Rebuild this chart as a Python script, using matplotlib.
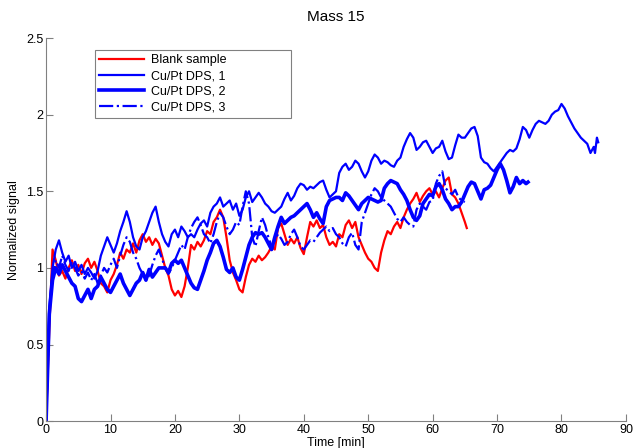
import numpy as np
import matplotlib
matplotlib.use('Agg')
import matplotlib.pyplot as plt

plt.rcParams['font.family'] = ['Liberation Sans', 'DejaVu Sans']

# Blank sample (red)
t_blank = [0, 0.5, 1, 1.5, 2, 2.5, 3, 3.5, 4, 4.5, 5, 5.5, 6, 6.5, 7, 7.5, 8, 8.5, 9, 9.5,
           10, 10.5, 11, 11.5, 12, 12.5, 13, 13.5, 14, 14.5, 15, 15.5, 16, 16.5, 17, 17.5, 18, 18.5, 19, 19.5,
           20, 20.5, 21, 21.5, 22, 22.5, 23, 23.5, 24, 24.5, 25, 25.5, 26, 26.5, 27, 27.5, 28, 28.5, 29, 29.5,
           30, 30.5, 31, 31.5, 32, 32.5, 33, 33.5, 34, 34.5, 35, 35.5, 36, 36.5, 37, 37.5, 38, 38.5, 39, 39.5,
           40, 40.5, 41, 41.5, 42, 42.5, 43, 43.5, 44, 44.5, 45, 45.5, 46, 46.5, 47, 47.5, 48, 48.5, 49, 49.5,
           50, 50.5, 51, 51.5, 52, 52.5, 53, 53.5, 54, 54.5, 55, 55.5, 56, 56.5, 57, 57.5, 58, 58.5, 59, 59.5,
           60, 60.5, 61, 61.5, 62, 62.5, 63, 63.5, 64, 64.5, 65, 65.3]
y_blank = [0, 0.6, 1.12, 1.05, 0.95, 0.98, 0.93, 1.0, 1.05, 0.98, 1.02, 0.96, 1.03, 1.06, 1.0, 1.04, 0.98, 0.9, 0.88, 0.84,
           0.92, 0.96, 1.02, 1.1, 1.06, 1.12, 1.1, 1.16, 1.1, 1.18, 1.22, 1.17, 1.2, 1.15, 1.19, 1.16, 1.08, 1.0, 0.95, 0.86,
           0.82, 0.85, 0.81, 0.88, 1.0, 1.15, 1.12, 1.17, 1.14, 1.18, 1.24, 1.22, 1.3, 1.33, 1.38, 1.33, 1.2, 1.05, 0.97, 0.92,
           0.86, 0.84, 0.94, 1.02, 1.06, 1.04, 1.08, 1.05, 1.07, 1.1, 1.14, 1.12, 1.26, 1.29, 1.22, 1.15, 1.19, 1.16, 1.2, 1.13,
           1.09, 1.2, 1.3, 1.27, 1.31, 1.26, 1.28, 1.2, 1.15, 1.17, 1.14, 1.22, 1.2, 1.28, 1.31, 1.26, 1.3, 1.2, 1.15, 1.1,
           1.06, 1.04, 1.0, 0.98, 1.1, 1.18, 1.24, 1.22, 1.27, 1.3, 1.26, 1.33, 1.38, 1.42, 1.45, 1.49, 1.43, 1.47, 1.5, 1.52,
           1.48, 1.5, 1.46, 1.52, 1.57, 1.59, 1.48, 1.46, 1.42, 1.36, 1.3, 1.26]

# Cu/Pt DPS, 1
t_dps1 = [0, 0.5, 1, 1.5, 2, 2.5, 3, 3.5, 4, 4.5, 5, 5.5, 6, 6.5, 7, 7.5, 8, 8.5, 9, 9.5,
          10, 10.5, 11, 11.5, 12, 12.5, 13, 13.5, 14, 14.5, 15, 15.5, 16, 16.5, 17, 17.5, 18, 18.5, 19, 19.5,
          20, 20.5, 21, 21.5, 22, 22.5, 23, 23.5, 24, 24.5, 25, 25.5, 26, 26.5, 27, 27.5, 28, 28.5, 29, 29.5,
          30, 30.5, 31, 31.5, 32, 32.5, 33, 33.5, 34, 34.5, 35, 35.5, 36, 36.5, 37, 37.5, 38, 38.5, 39, 39.5,
          40, 40.5, 41, 41.5, 42, 42.5, 43, 43.5, 44, 44.5, 45, 45.5, 46, 46.5, 47, 47.5, 48, 48.5, 49, 49.5,
          50, 50.5, 51, 51.5, 52, 52.5, 53, 53.5, 54, 54.5, 55, 55.5, 56, 56.5, 57, 57.5, 58, 58.5, 59, 59.5,
          60, 60.5, 61, 61.5, 62, 62.5, 63, 63.5, 64, 64.5, 65, 65.5, 66, 66.5, 67, 67.5, 68, 68.5, 69, 69.5,
          70, 70.5, 71, 71.5, 72, 72.5, 73, 73.5, 74, 74.5, 75, 75.5, 76, 76.5, 77, 77.5, 78, 78.5, 79, 79.5,
          80, 80.5, 81, 81.5, 82, 82.5, 83, 83.5, 84, 84.5, 85, 85.2, 85.5, 85.7]
y_dps1 = [0, 0.75, 1.0, 1.12, 1.18, 1.1, 1.04, 1.08, 1.0, 1.04, 0.98, 1.02, 0.96, 1.0, 0.97, 0.93, 0.98, 1.08, 1.14, 1.2,
          1.15, 1.1, 1.16, 1.24, 1.3, 1.37, 1.3, 1.2, 1.14, 1.12, 1.2, 1.24, 1.3, 1.36, 1.4, 1.3, 1.22, 1.17, 1.14, 1.22,
          1.25, 1.2, 1.27, 1.24, 1.2, 1.22, 1.2, 1.25, 1.29, 1.31, 1.27, 1.36, 1.4, 1.42, 1.46, 1.4, 1.42, 1.44, 1.38, 1.42,
          1.34, 1.38, 1.46, 1.5, 1.43, 1.46, 1.49, 1.46, 1.42, 1.4, 1.37, 1.36, 1.38, 1.4, 1.45, 1.49, 1.44, 1.47, 1.52, 1.55,
          1.54, 1.51, 1.53, 1.52, 1.54, 1.56, 1.57, 1.51, 1.46, 1.48, 1.5, 1.62, 1.66, 1.68, 1.64, 1.66, 1.7, 1.68, 1.63, 1.59,
          1.63, 1.7, 1.74, 1.72, 1.68, 1.7, 1.69, 1.67, 1.66, 1.7, 1.72, 1.79, 1.84, 1.88, 1.85, 1.77, 1.79, 1.82, 1.83, 1.79,
          1.75, 1.78, 1.79, 1.83, 1.76, 1.71, 1.72, 1.8, 1.87, 1.85, 1.85, 1.88, 1.91, 1.92, 1.86, 1.72, 1.69, 1.68, 1.65, 1.63,
          1.66, 1.69, 1.72, 1.75, 1.77, 1.76, 1.78, 1.84, 1.92, 1.9, 1.85, 1.9, 1.94, 1.96, 1.95, 1.94, 1.96, 2.0, 2.02, 2.03,
          2.07, 2.04, 1.99, 1.95, 1.91, 1.88, 1.85, 1.83, 1.81, 1.75, 1.79, 1.75, 1.85, 1.82]

# Cu/Pt DPS, 2
t_dps2 = [0, 0.5, 1, 1.5, 2, 2.5, 3, 3.5, 4, 4.5, 5, 5.5, 6, 6.5, 7, 7.5, 8, 8.5, 9, 9.5,
          10, 10.5, 11, 11.5, 12, 12.5, 13, 13.5, 14, 14.5, 15, 15.5, 16, 16.5, 17, 17.5, 18, 18.5, 19, 19.5,
          20, 20.5, 21, 21.5, 22, 22.5, 23, 23.5, 24, 24.5, 25, 25.5, 26, 26.5, 27, 27.5, 28, 28.5, 29, 29.5,
          30, 30.5, 31, 31.5, 32, 32.5, 33, 33.5, 34, 34.5, 35, 35.5, 36, 36.5, 37, 37.5, 38, 38.5, 39, 39.5,
          40, 40.5, 41, 41.5, 42, 42.5, 43, 43.5, 44, 44.5, 45, 45.5, 46, 46.5, 47, 47.5, 48, 48.5, 49, 49.5,
          50, 50.5, 51, 51.5, 52, 52.5, 53, 53.5, 54, 54.5, 55, 55.5, 56, 56.5, 57, 57.5, 58, 58.5, 59, 59.5,
          60, 60.5, 61, 61.5, 62, 62.5, 63, 63.5, 64, 64.5, 65, 65.5, 66, 66.5, 67, 67.5, 68, 68.5, 69, 69.5,
          70, 70.5, 71, 71.5, 72, 72.5, 73, 73.5, 74, 74.5, 74.8]
y_dps2 = [0, 0.7, 0.92, 1.0, 0.96, 1.02, 0.98, 0.94, 0.9, 0.88, 0.8, 0.78, 0.82, 0.86, 0.8, 0.86, 0.88, 0.94, 0.9, 0.86,
          0.84, 0.88, 0.92, 0.96, 0.9, 0.86, 0.82, 0.86, 0.9, 0.92, 0.97, 0.92, 0.99, 0.94, 0.97, 1.0, 1.0, 1.0, 0.97, 1.03,
          1.05, 1.03, 1.05, 1.0, 0.95, 0.9, 0.87, 0.86, 0.92, 0.98, 1.05, 1.1, 1.16, 1.18, 1.14, 1.07, 0.99, 0.97, 1.0, 0.94,
          0.92, 0.99, 1.07, 1.15, 1.2, 1.23, 1.22, 1.23, 1.2, 1.16, 1.12, 1.2, 1.27, 1.33, 1.29, 1.31, 1.33, 1.34, 1.36, 1.38,
          1.4, 1.42, 1.38, 1.33, 1.36, 1.32, 1.29, 1.4, 1.44, 1.45, 1.46, 1.46, 1.44, 1.49, 1.47, 1.44, 1.41, 1.38, 1.42, 1.44,
          1.46, 1.45, 1.44, 1.43, 1.44, 1.52, 1.55, 1.57, 1.56, 1.55, 1.51, 1.48, 1.44, 1.38, 1.33, 1.31, 1.34, 1.42, 1.45, 1.48,
          1.47, 1.53, 1.55, 1.51, 1.45, 1.42, 1.38, 1.4, 1.4, 1.43, 1.48, 1.53, 1.56, 1.55, 1.5, 1.45, 1.51, 1.52, 1.54, 1.59,
          1.64, 1.68, 1.64, 1.57, 1.49, 1.53, 1.59, 1.55, 1.57, 1.55, 1.56]

# Cu/Pt DPS, 3
t_dps3 = [0, 0.5, 1, 1.5, 2, 2.5, 3, 3.5, 4, 4.5, 5, 5.5, 6, 6.5, 7, 7.5, 8, 8.5, 9, 9.5,
          10, 10.5, 11, 11.5, 12, 12.5, 13, 13.5, 14, 14.5, 15, 15.5, 16, 16.5, 17, 17.5, 18, 18.5, 19, 19.5,
          20, 20.5, 21, 21.5, 22, 22.5, 23, 23.5, 24, 24.5, 25, 25.5, 26, 26.5, 27, 27.5, 28, 28.5, 29, 29.5,
          30, 30.5, 31, 31.5, 32, 32.5, 33, 33.5, 34, 34.5, 35, 35.5, 36, 36.5, 37, 37.5, 38, 38.5, 39, 39.5,
          40, 40.5, 41, 41.5, 42, 42.5, 43, 43.5, 44, 44.5, 45, 45.5, 46, 46.5, 47, 47.5, 48, 48.5, 49, 49.5,
          50, 50.5, 51, 51.5, 52, 52.5, 53, 53.5, 54, 54.5, 55, 55.5, 56, 56.5, 57, 57.5, 58, 58.5, 59, 59.5,
          60, 60.5, 61, 61.5, 62, 62.5, 63, 63.5, 64, 64.5, 65]
y_dps3 = [0, 0.7, 0.95, 1.05, 1.0, 1.08, 1.02, 0.98, 1.04, 1.0, 0.95, 0.98, 0.93, 0.97, 0.92, 0.96, 0.9, 0.95, 1.0, 0.97,
          1.02, 1.06, 1.0, 1.08, 1.15, 1.2, 1.17, 1.1, 1.06, 1.0, 0.96, 0.92, 0.95, 1.02, 1.08, 1.12, 1.06, 1.0, 0.96, 1.0,
          1.05, 1.1, 1.15, 1.12, 1.2, 1.26, 1.3, 1.33, 1.28, 1.22, 1.2, 1.16, 1.22, 1.3, 1.36, 1.33, 1.27, 1.22, 1.25, 1.3,
          1.28, 1.4, 1.5, 1.42, 1.2, 1.14, 1.24, 1.33, 1.28, 1.2, 1.14, 1.18, 1.22, 1.19, 1.15, 1.17, 1.22, 1.25, 1.2, 1.14,
          1.12, 1.15, 1.18, 1.17, 1.2, 1.23, 1.25, 1.27, 1.24, 1.26, 1.22, 1.2, 1.16, 1.14, 1.2, 1.23, 1.15, 1.12, 1.3, 1.36,
          1.42, 1.48, 1.52, 1.5, 1.46, 1.44, 1.42, 1.4, 1.36, 1.32, 1.3, 1.33, 1.3, 1.28, 1.27, 1.38, 1.42, 1.4, 1.38, 1.43,
          1.44, 1.55, 1.6, 1.63, 1.52, 1.5, 1.48, 1.51, 1.46, 1.44, 1.43]

fig = plt.figure(figsize=(6.4, 4.48), dpi=100)
ax = fig.add_axes([0.072, 0.060, 0.906, 0.855])

ax.plot(t_blank, y_blank, color='red', lw=1.6, label='Blank sample')
ax.plot(t_dps1, y_dps1, color='blue', lw=1.6, label='Cu/Pt DPS, 1')
ax.plot(t_dps2, y_dps2, color='blue', lw=2.6, label='Cu/Pt DPS, 2')
ax.plot(t_dps3, y_dps3, color='blue', lw=1.6, ls='-.', label='Cu/Pt DPS, 3')

ax.set_xlim(0, 90)
ax.set_ylim(0, 2.5)
ax.set_xticks(range(0, 91, 10))
ax.set_yticks([0, 0.5, 1, 1.5, 2, 2.5])
ax.set_yticklabels(['0', '0.5', '1', '1.5', '2', '2.5'])

for s in ['top', 'right']:
    ax.spines[s].set_visible(False)
for s in ['left', 'bottom']:
    ax.spines[s].set_color('#808080')
    ax.spines[s].set_linewidth(0.8)
ax.tick_params(direction='in', length=5, width=0.8, color='#808080', labelsize=9, pad=2)

ax.set_title('Mass 15', fontsize=11, pad=12)
ax.set_xlabel('Time [min]', fontsize=9, labelpad=1)
ax.set_ylabel('Normalized signal', fontsize=9, labelpad=4)

leg = ax.legend(loc='upper left', bbox_to_anchor=(0.0845, 0.791, 0.338, 0.178), mode='expand',
                borderaxespad=0, fontsize=9, handlelength=3.6, labelspacing=0.3, fancybox=False,
                edgecolor='#808080', framealpha=1, borderpad=0.35, handletextpad=0.5)
leg.get_frame().set_linewidth(0.8)

fig.savefig('out.png', dpi=100)
